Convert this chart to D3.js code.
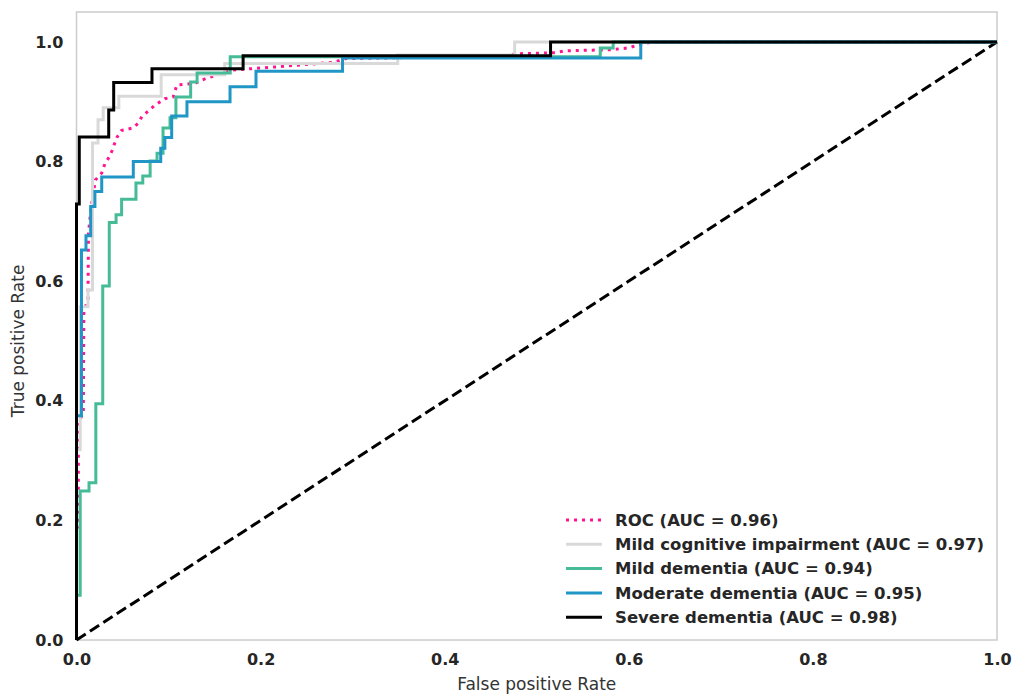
<!DOCTYPE html>
<html>
<head>
<meta charset="utf-8">
<script src="https://cdn.jsdelivr.net/npm/d3@7"></script>
<style>
  html, body { margin: 0; padding: 0; background: #ffffff; }
  svg { display: block; font-family: "DejaVu Sans", sans-serif; }
</style>
</head>
<body>
<svg id="chart" width="1015" height="695"></svg>
<script>
// ROC curves per class (false positive rate, true positive rate)
const rocFpr = [0, 0, 0.002, 0.002, 0.0074, 0.008, 0.0125, 0.013, 0.016, 0.0185, 0.0204, 0.0274, 0.031, 0.0353, 0.0386, 0.0437, 0.049, 0.061, 0.067, 0.071, 0.08, 0.085, 0.096, 0.105, 0.109, 0.129, 0.136, 0.141, 0.17, 0.215, 0.28, 0.292, 0.47, 0.476, 0.52, 0.53, 0.58, 0.6, 0.61, 0.626, 1];
const rocTpr = [0, 0.189, 0.189, 0.363, 0.38, 0.55, 0.57, 0.68, 0.725, 0.747, 0.769, 0.781, 0.797, 0.807, 0.818, 0.84, 0.852, 0.856, 0.864, 0.875, 0.887, 0.894, 0.905, 0.908, 0.928, 0.931, 0.936, 0.939, 0.953, 0.958, 0.966, 0.972, 0.977, 0.98, 0.982, 0.985, 0.987, 0.99, 0.995, 1, 1];

const mciFpr = [0, 0, 0.004, 0.004, 0.0125, 0.0125, 0.0174, 0.0174, 0.0234, 0.0234, 0.029, 0.029, 0.046, 0.046, 0.092, 0.092, 0.161, 0.161, 0.349, 0.349, 0.476, 0.476, 1];
const mciTpr = [0, 0.318, 0.318, 0.557, 0.557, 0.585, 0.585, 0.831, 0.831, 0.87, 0.87, 0.89, 0.89, 0.909, 0.909, 0.945, 0.945, 0.964, 0.964, 0.978, 0.978, 1, 1];

const mildFpr = [0, 0, 0.004, 0.004, 0.0136, 0.0136, 0.021, 0.021, 0.0285, 0.0285, 0.0356, 0.0356, 0.043, 0.043, 0.049, 0.049, 0.0646, 0.0646, 0.072, 0.072, 0.08, 0.08, 0.0875, 0.0875, 0.094, 0.094, 0.1016, 0.1016, 0.108, 0.108, 0.124, 0.124, 0.131, 0.131, 0.167, 0.167, 0.569, 0.569, 0.583, 0.583, 1];
const mildTpr = [0, 0.075, 0.075, 0.249, 0.249, 0.263, 0.263, 0.395, 0.395, 0.592, 0.592, 0.698, 0.698, 0.711, 0.711, 0.737, 0.737, 0.764, 0.764, 0.776, 0.776, 0.801, 0.801, 0.814, 0.814, 0.856, 0.856, 0.873, 0.873, 0.908, 0.908, 0.933, 0.933, 0.948, 0.948, 0.975, 0.975, 0.99, 0.99, 1, 1];

const modFpr = [0, 0, 0.0054, 0.0054, 0.0103, 0.0103, 0.0154, 0.0154, 0.020, 0.020, 0.0274, 0.0274, 0.0617, 0.0617, 0.0915, 0.0915, 0.096, 0.096, 0.1034, 0.1034, 0.12, 0.12, 0.1668, 0.1668, 0.195, 0.195, 0.289, 0.289, 0.613, 0.613, 1];
const modTpr = [0, 0.375, 0.375, 0.652, 0.652, 0.676, 0.676, 0.725, 0.725, 0.75, 0.75, 0.774, 0.774, 0.8, 0.8, 0.822, 0.822, 0.84, 0.84, 0.876, 0.876, 0.9, 0.9, 0.925, 0.925, 0.951, 0.951, 0.973, 0.973, 1, 1];

const sevFpr = [0, 0, 0.003, 0.003, 0.035, 0.035, 0.0404, 0.0404, 0.082, 0.082, 0.181, 0.181, 0.515, 0.515, 1];
const sevTpr = [0, 0.729, 0.729, 0.841, 0.841, 0.886, 0.886, 0.932, 0.932, 0.955, 0.955, 0.977, 0.977, 1, 1];

const seriesNames = ["ROC (AUC = 0.96)", "Mild cognitive impairment (AUC = 0.97)", "Mild dementia (AUC = 0.94)", "Moderate dementia (AUC = 0.95)", "Severe dementia (AUC = 0.98)"];
const seriesColors = ["#ff1493", "#d9d9d9", "#45bb97", "#1f96c6", "#000000"];
const seriesDash = ["3,5", null, null, null, null];
const seriesFpr = [rocFpr, mciFpr, mildFpr, modFpr, sevFpr];
const seriesTpr = [rocTpr, mciTpr, mildTpr, modTpr, sevTpr];

const xTicks = [0, 0.2, 0.4, 0.6, 0.8, 1.0];
const yTicks = [0, 0.2, 0.4, 0.6, 0.8, 1.0];

const svg = d3.select("#chart");
const x = d3.scaleLinear().domain([0, 1]).range([76.5, 997]);
const y = d3.scaleLinear().domain([0, 1.05]).range([640, 12]);

// axes frame
svg.append("rect")
  .attr("x", x(0)).attr("y", y(1.05))
  .attr("width", x(1) - x(0)).attr("height", y(0) - y(1.05))
  .attr("fill", "none").attr("stroke", "#cccccc").attr("stroke-width", 1.5);

// chance diagonal
svg.append("line")
  .attr("x1", x(0)).attr("y1", y(0)).attr("x2", x(1)).attr("y2", y(1))
  .attr("stroke", "#000").attr("stroke-width", 3)
  .attr("stroke-dasharray", "11,5");

const line = d3.line().x(d => x(d[0])).y(d => y(d[1]));

seriesNames.forEach((name, i) => {
  const pts = seriesFpr[i].map((f, j) => [f, seriesTpr[i][j]]);
  const p = svg.append("path")
    .datum(pts)
    .attr("d", line)
    .attr("fill", "none")
    .attr("stroke", seriesColors[i])
    .attr("stroke-width", 3)
    .attr("stroke-linejoin", "miter");
  if (seriesDash[i]) p.attr("stroke-dasharray", seriesDash[i]);
});

// tick labels
const xAxis = svg.append("g")
  .attr("transform", `translate(0,${y(0)})`)
  .call(d3.axisBottom(x).tickValues(xTicks).tickFormat(d3.format(".1f")).tickSize(0).tickPadding(14));
xAxis.select(".domain").remove();
xAxis.selectAll("text").attr("font-size", 16).attr("font-weight", "bold")
  .attr("fill", "#262626").attr("font-family", "DejaVu Sans");

const yAxis = svg.append("g")
  .attr("transform", `translate(${x(0)},0)`)
  .call(d3.axisLeft(y).tickValues(yTicks).tickFormat(d3.format(".1f")).tickSize(0).tickPadding(13));
yAxis.select(".domain").remove();
yAxis.selectAll("text").attr("font-size", 16).attr("font-weight", "bold")
  .attr("fill", "#262626").attr("font-family", "DejaVu Sans");

// axis titles
svg.append("text")
  .attr("x", (x(0) + x(1)) / 2).attr("y", 690)
  .attr("text-anchor", "middle").attr("font-size", 17).attr("fill", "#333")
  .text("False positive Rate");
svg.append("text")
  .attr("transform", `translate(24,${y(0.5)}) rotate(-90)`)
  .attr("text-anchor", "middle").attr("font-size", 17).attr("fill", "#333")
  .text("True positive Rate");

// legend
const legend = svg.append("g").attr("transform", "translate(566,520)");
seriesNames.forEach((name, i) => {
  const row = legend.append("g").attr("transform", `translate(0,${i * 24.3})`);
  const l = row.append("line").attr("x1", 0).attr("x2", 36).attr("y1", 0).attr("y2", 0)
    .attr("stroke", seriesColors[i]).attr("stroke-width", 3);
  if (seriesDash[i]) l.attr("stroke-dasharray", seriesDash[i]);
  row.append("text").attr("x", 49).attr("y", 0).attr("dy", "0.35em")
    .attr("font-size", 16.5).attr("font-weight", "bold").attr("fill", "#262626")
    .text(name);
});
</script>
</body>
</html>
